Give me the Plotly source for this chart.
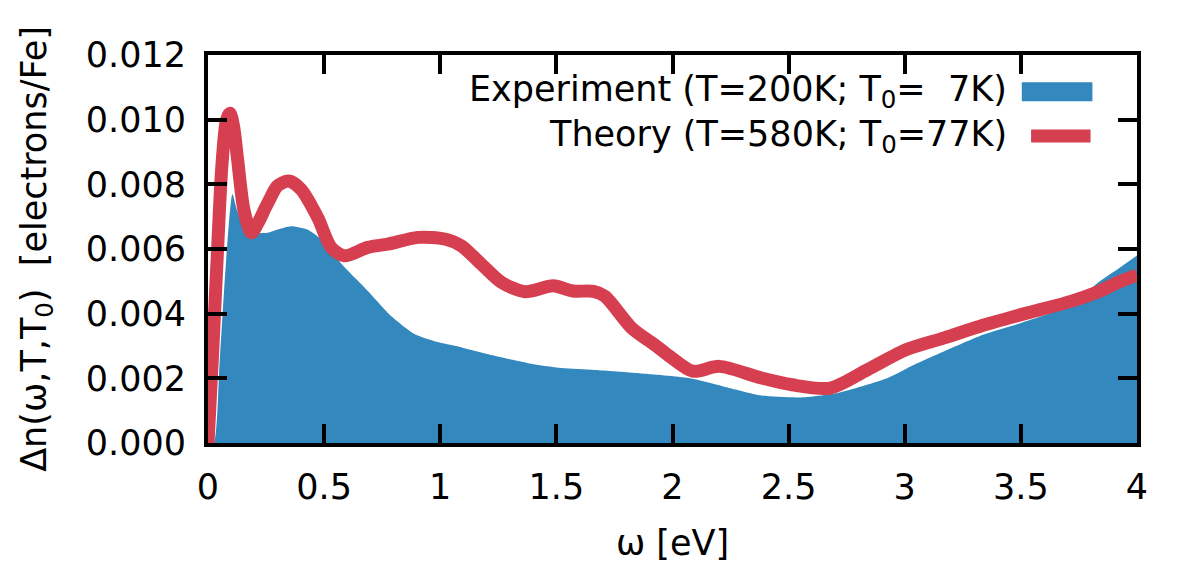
import plotly.graph_objects as go

# Experiment (blue filled area)
exp_x = [0, 0.025, 0.05, 0.07, 0.09, 0.105, 0.125, 0.155, 0.2, 0.256, 0.3, 0.357, 0.428, 0.486,
         0.587, 0.687, 0.788, 0.889, 0.975, 1.062, 1.234, 1.378, 1.522, 1.666, 1.857, 2.07,
         2.219, 2.383, 2.548, 2.712, 2.926, 3.04, 3.17, 3.337, 3.5, 3.666, 3.748, 3.83, 3.913, 4.0]
exp_y = [0, 0, 0.0025, 0.0048, 0.0068, 0.0077, 0.0072, 0.0067, 0.0065, 0.0065, 0.0066, 0.0067,
         0.0066, 0.0063, 0.00544, 0.00471, 0.00393, 0.00337, 0.00315, 0.00301, 0.0027, 0.00247,
         0.00232, 0.00226, 0.00216, 0.00201, 0.00175, 0.00147, 0.00141, 0.00155, 0.00201,
         0.00242, 0.00284, 0.00335, 0.00371, 0.00412, 0.00443, 0.00495, 0.00536, 0.0058]

# Theory (red line)
th_x = [0, 0.02, 0.04, 0.06, 0.08, 0.095, 0.11, 0.127, 0.155, 0.187, 0.215, 0.242, 0.27, 0.299,
        0.347, 0.4, 0.472, 0.53, 0.587, 0.688, 0.774, 0.904, 1.019, 1.09, 1.177, 1.263, 1.364,
        1.486, 1.57, 1.66, 1.709, 1.824, 1.923, 1.988, 2.087, 2.202, 2.383, 2.515, 2.679, 2.84,
        3.008, 3.17, 3.337, 3.5, 3.715, 3.83, 3.913, 4.0]
th_y = [0, 0.0028, 0.0058, 0.0086, 0.0100, 0.0102, 0.0098, 0.0088, 0.0072, 0.0065, 0.0068,
        0.0072, 0.0076, 0.00795, 0.0081, 0.00785, 0.00698, 0.00605, 0.00579, 0.00605, 0.00615,
        0.00636, 0.00631, 0.0061, 0.00553, 0.00497, 0.00468, 0.00486, 0.00470, 0.00469,
        0.00454, 0.00356, 0.00304, 0.00268, 0.00222, 0.00237, 0.00201, 0.0018, 0.0017,
        0.00227, 0.00289, 0.00325, 0.00364, 0.00397, 0.00438, 0.00467, 0.00495, 0.00519]

x_ticks = [0, 0.5, 1, 1.5, 2, 2.5, 3, 3.5, 4]
x_tick_labels = ["0", "0.5", "1", "1.5", "2", "2.5", "3", "3.5", "4"]
y_ticks = [0, 0.002, 0.004, 0.006, 0.008, 0.010, 0.012]
y_tick_labels = ["0.000", "0.002", "0.004", "0.006", "0.008", "0.010", "0.012"]

exp_label = "Experiment (T=200K; T<sub>0</sub>=\u00a0\u00a07K)"
th_label = "Theory (T=580K; T<sub>0</sub>=77K)"

BLUE = "#3388be"
RED = "#d63f50"
FONT = "DejaVu Sans"
FS = 35

fig = go.Figure()
fig.add_trace(go.Scatter(x=exp_x, y=exp_y, mode="lines", fill="tozeroy",
                         fillcolor=BLUE, line=dict(width=0, color=BLUE, shape="spline", smoothing=0.6),
                         name="Experiment", showlegend=False))
fig.add_trace(go.Scatter(x=th_x, y=th_y, mode="lines",
                         line=dict(width=13, color=RED, shape="spline", smoothing=0.8),
                         name="Theory", showlegend=False))

axis_common = dict(showline=True, linecolor="black", linewidth=4, mirror="ticks",
                   ticks="inside", ticklen=19, tickwidth=4, tickcolor="black",
                   showgrid=False, zeroline=False,
                   tickfont=dict(family=FONT, size=FS, color="black"))

fig.update_xaxes(range=[0, 4], tickvals=x_ticks, ticktext=x_tick_labels, ticklabelstandoff=10,
                 title=dict(text="ω [eV]", font=dict(family=FONT, size=FS, color="black"), standoff=25),
                 **axis_common)
fig.update_yaxes(range=[0, 0.012], tickvals=y_ticks, ticktext=y_tick_labels, ticklabelstandoff=11,
                 title=dict(text="Δn(ω,T,T<sub>0</sub>)\u00a0\u00a0[electrons/Fe]",
                            font=dict(family=FONT, size=FS, color="black"), standoff=30),
                 **axis_common)

# Legend drawn manually (text to the left of the samples, as in the reference)
fig.add_annotation(x=0.862, y=0.905, xref="paper", yref="paper", text=exp_label,
                   showarrow=False, xanchor="right", yanchor="middle",
                   font=dict(family=FONT, size=FS, color="black"))
fig.add_annotation(x=0.862, y=0.791, xref="paper", yref="paper", text=th_label,
                   showarrow=False, xanchor="right", yanchor="middle",
                   font=dict(family=FONT, size=FS, color="black"))
fig.add_shape(type="rect", xref="paper", yref="paper", x0=0.876, x1=0.952, y0=0.881, y1=0.930,
              fillcolor=BLUE, line=dict(width=0))
fig.add_shape(type="line", xref="paper", yref="paper", x0=0.886, x1=0.950, y0=0.791, y1=0.791,
              line=dict(color=RED, width=13))

fig.update_layout(width=1200, height=567, margin=dict(l=200, r=71, t=47, b=132),
                  paper_bgcolor="white", plot_bgcolor="white",
                  font=dict(family=FONT, color="black"))

fig.write_html("out.html")
